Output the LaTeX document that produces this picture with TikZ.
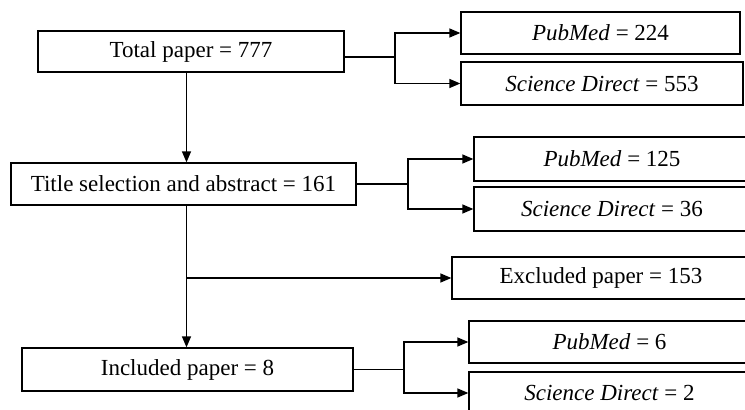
\documentclass[tikz,border=0pt]{standalone}
\usepackage{fontspec}
\setmainfont{Liberation Serif}
\usetikzlibrary{arrows.meta}

\begin{document}
\begin{tikzpicture}[x=1pt,y=-1pt,
  box/.style={draw, line width=1.3pt, inner sep=0pt,
    font=\fontsize{23}{27}\selectfont},
  link/.style={line width=1.3pt},
  arr/.style={link, -{Triangle[length=11pt,width=9pt]}}]

  \useasboundingbox (0,0) rectangle (745,410);
  \clip (0,0) rectangle (745,410); %% page edge

  %% left column
  \node[box, minimum width=306pt, minimum height=41pt] (total) at (191,51.5) {Total paper = 777};
  \node[box, minimum width=345pt, minimum height=42pt] (title) at (183.5,184) {Title selection and abstract = 161};
  \node[box, minimum width=331pt, minimum height=43pt] (incl) at (187.5,369.5) {Included paper = 8};

  %% right column
  \node[box, minimum width=279pt, minimum height=42pt] (pmA) at (600.5,33) {\textit{PubMed} = 224};
  \node[box, minimum width=282pt, minimum height=43pt] (sdA) at (602,83.5) {\textit{Science Direct} = 553};
  \node[box, minimum width=276pt, minimum height=44pt] (pmB) at (612,159) {\textit{PubMed} = 125};
  \node[box, minimum width=276pt, minimum height=44pt] (sdB) at (612,209) {\textit{Science Direct} = 36};
  \node[box, minimum width=298pt, minimum height=42pt] (excl) at (601,278) {Excluded paper = 153};
  \node[box, minimum width=281pt, minimum height=42pt] (pmC) at (609.5,342) {\textit{PubMed} = 6};
  \node[box, minimum width=281pt, minimum height=42pt] (sdC) at (609.5,393) {\textit{Science Direct} = 2};

  \coordinate (trunk) at (186.5,0);
  \coordinate (forkA) at (395,57);
  \coordinate (forkB) at (408,184);
  \coordinate (forkC) at (404,369.5);

  %% branches
  \draw[link] (total.east |- forkA) -- (forkA);
  \draw[arr] (forkA) |- (pmA.west);
  \draw[arr] (forkA) |- (sdA.west);

  \draw[link] (title.east) -- (forkB);
  \draw[arr] (forkB) |- (pmB.west);
  \draw[arr] (forkB) |- (sdB.west);

  \draw[link] (incl.east) -- (forkC);
  \draw[arr] (forkC) |- (pmC.west);
  \draw[arr] (forkC) |- (sdC.west);

  %% main flow
  \draw[arr] (total.south -| trunk) -- (title.north -| trunk);
  \draw[arr] (title.south -| trunk) -- (incl.north -| trunk);
  \draw[arr] (excl.west -| trunk) -- (excl.west);

\end{tikzpicture}
\end{document}
